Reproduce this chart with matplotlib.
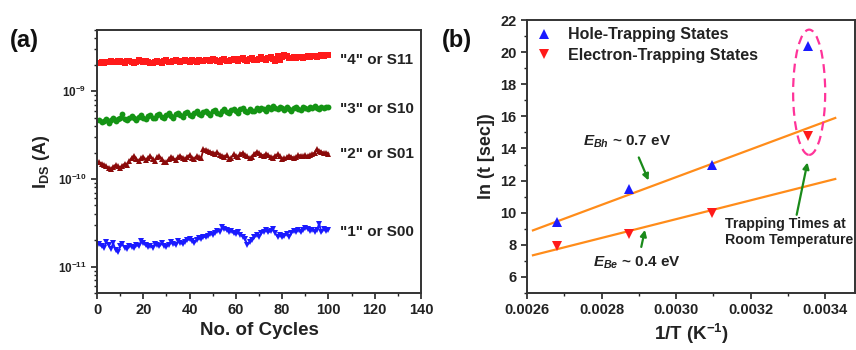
import matplotlib
matplotlib.use("Agg")
import matplotlib.pyplot as plt
import numpy as np
from matplotlib.patches import Ellipse
from matplotlib.ticker import MultipleLocator, FixedLocator, NullFormatter, FuncFormatter

plt.rcParams['font.family'] = ['Liberation Sans', 'DejaVu Sans']
plt.rcParams['font.weight'] = 'bold'
plt.rcParams['mathtext.fontset'] = 'custom'
plt.rcParams['mathtext.rm'] = 'Liberation Sans:bold'
plt.rcParams['mathtext.it'] = 'Liberation Sans:bold:italic'
plt.rcParams['mathtext.bf'] = 'Liberation Sans:bold'
plt.rcParams['mathtext.default'] = 'rm'

TXT = '#222222'

# ---------------- Panel (a) data ----------------
cycles = list(range(1, 101))
red_nA = [2.10,2.15,2.12,2.18,2.14,2.20,2.16,2.13,2.19,2.22,
          2.15,2.12,2.20,2.24,2.17,2.10,2.18,2.25,2.19,2.14,
          2.21,2.16,2.12,2.08,2.17,2.23,2.15,2.11,2.20,2.26,
          2.18,2.13,2.22,2.27,2.19,2.15,2.24,2.29,2.20,2.16,
          2.25,2.21,2.17,2.28,2.23,2.19,2.30,2.25,2.20,2.31,
          2.26,2.22,2.18,2.27,2.33,2.24,2.20,2.29,2.35,2.26,
          2.22,2.31,2.38,2.28,2.24,2.33,2.40,2.30,2.26,2.36,
          2.43,2.34,2.28,2.39,2.46,2.36,2.20,2.55,2.30,2.48,
          2.62,2.50,2.42,2.38,2.45,2.40,2.44,2.49,2.42,2.46,
          2.52,2.47,2.50,2.55,2.48,2.53,2.58,2.50,2.56,2.62]
green_e10 = [4.7,4.5,4.6,4.8,4.4,4.7,4.9,4.6,4.8,5.0,
             5.5,4.8,4.7,5.0,5.2,4.9,4.7,5.1,5.3,5.0,
             4.8,5.2,5.4,5.0,4.9,5.3,5.5,5.1,4.9,5.4,
             5.6,5.2,5.0,5.5,5.7,5.3,5.1,5.6,5.8,5.4,
             5.2,5.7,5.9,5.5,5.3,5.8,6.0,5.6,5.4,5.9,
             6.1,5.7,5.5,6.0,6.2,5.8,5.6,6.1,6.3,5.9,
             5.7,6.2,6.4,6.0,5.8,6.3,6.0,5.9,6.4,6.1,
             6.5,6.2,6.0,6.6,6.3,6.8,6.5,6.2,6.7,6.4,
             6.1,6.6,6.3,6.0,6.5,6.7,6.3,6.1,6.6,6.4,
             6.2,6.7,6.5,6.8,6.4,6.3,6.6,6.5,6.7,6.6]
brown_e10 = [1.55,1.50,1.45,1.40,1.35,1.30,1.38,1.45,1.40,1.35,
             1.42,1.50,1.45,1.60,1.75,1.85,1.70,1.60,1.72,1.80,
             1.65,1.75,1.85,1.70,1.62,1.78,1.82,1.68,1.58,1.55,
             1.70,1.80,1.72,1.65,1.78,1.85,1.75,1.68,1.80,1.88,
             1.75,1.70,1.82,1.78,1.72,2.20,2.15,2.10,2.05,2.00,
             1.95,2.02,1.90,1.85,1.80,1.88,1.70,1.75,1.92,1.85,
             1.78,1.95,2.00,1.88,1.82,1.72,1.80,1.95,2.05,1.98,
             1.90,1.85,1.95,1.88,1.80,1.75,1.85,1.92,1.82,1.70,
             1.72,1.78,1.85,1.80,1.74,1.78,1.88,1.85,1.82,1.86,
             1.84,1.88,1.92,2.00,2.20,2.10,2.05,1.98,2.00,1.95]
blue_e11 = [1.80,1.70,1.65,1.90,1.75,1.60,1.85,1.55,1.45,1.70,
            1.80,1.65,1.60,1.72,1.68,1.62,1.78,1.70,1.95,1.85,
            1.75,1.68,1.72,1.65,1.80,1.78,1.70,1.85,1.74,1.68,
            1.78,1.90,1.82,1.75,1.95,1.88,1.80,1.92,2.00,2.05,
            1.95,1.85,2.02,2.10,2.05,2.20,2.15,2.25,2.35,2.30,
            2.40,2.55,2.50,2.80,2.70,2.60,2.50,2.55,2.40,2.35,
            2.45,2.30,2.20,2.05,1.78,1.90,2.00,2.15,2.30,2.20,
            2.40,2.50,2.60,2.45,2.55,2.70,2.40,2.20,2.30,2.15,
            2.25,2.35,2.20,2.40,2.55,2.50,2.65,2.45,2.60,2.75,
            2.70,2.55,2.65,2.50,2.60,3.10,2.45,2.70,2.55,2.65]
state_labels = ['"4" or S11', '"3" or S10', '"2" or S01', '"1" or S00']
ytick_a = [1e-11, 1e-10, 1e-9]

# ---------------- Panel (b) data ----------------
invT = [0.002681, 0.002874, 0.003096, 0.003354]
ln_hole = [9.4, 11.5, 13.0, 20.4]
ln_elec = [7.9, 8.7, 10.0, 14.8]
fit_x = [0.002616, 0.003427]
fit_hole = [8.9, 15.9]
fit_elec = [7.35, 12.1]

fig = plt.figure(figsize=(8.56, 3.5), dpi=100)

# ---- Panel a ----
axa = fig.add_axes([97/856, 57/350, 324/856, 263/350])
x = np.array(cycles)
axa.plot(x, np.array(red_nA)*1e-9, color='#ff1a1a', marker='s', ms=4.0, lw=1.3, mew=0)
axa.plot(x, np.array(green_e10)*1e-10, color='#149414', marker='o', ms=4.2, lw=1.3, mew=0)
axa.plot(x, np.array(brown_e10)*1e-10, color='#8b0a0a', marker='^', ms=5.0, lw=1.3, mew=0)
axa.plot(x, np.array(blue_e11)*1e-11, color='#1a1aff', marker='v', ms=5.0, lw=1.3, mew=0)
axa.set_yscale('log')
axa.set_xlim(0, 140)
axa.set_ylim(5e-12, 5e-9)
axa.xaxis.set_major_locator(MultipleLocator(20))
axa.xaxis.set_minor_locator(MultipleLocator(10))
axa.yaxis.set_major_locator(FixedLocator(ytick_a))
minors = [m * d for d in (1e-12, 1e-11, 1e-10, 1e-9) for m in range(2, 10) if 5e-12 <= m * d <= 5e-9]
axa.yaxis.set_minor_locator(FixedLocator(minors))
axa.yaxis.set_minor_formatter(NullFormatter())
axa.yaxis.set_major_formatter(FuncFormatter(lambda v, p: r'10$^{%d}$' % int(round(np.log10(v)))))
axa.tick_params(axis='x', which='major', labelsize=10.5, length=4, width=1.2, colors=TXT, direction='out')
axa.tick_params(axis='y', which='major', labelsize=8.5, length=4, width=1.2, colors=TXT, direction='out')
axa.tick_params(which='minor', length=2.5, width=1.0, colors=TXT, direction='out')
axa.set_xlabel('No. of Cycles', fontsize=13.5, fontweight='bold', color=TXT, labelpad=3)
axa.set_ylabel(r'I$_{\mathrm{DS}}$ (A)', fontsize=13, fontweight='bold', color=TXT, labelpad=4)
for s in axa.spines.values():
    s.set_linewidth(1.4)
    s.set_color('#333333')
ypos = [2.3e-9, 6.3e-10, 1.95e-10, 2.5e-11]
for lab, yv in zip(state_labels, ypos):
    axa.text(105, yv, lab, fontsize=11, fontweight='bold', color=TXT, va='center', ha='left')
fig.text(10/856, 1 - 40/350, '(a)', fontsize=17, fontweight='bold', color='#111111', va='center')

# ---- Panel b ----
axb = fig.add_axes([527/856, 57/350, 328/856, 273/350])
axb.plot(fit_x, fit_hole, color='#ff8c1a', lw=1.6, zorder=2)
axb.plot(fit_x, fit_elec, color='#ff8c1a', lw=1.6, zorder=2)
axb.plot(invT, ln_hole, ls='none', marker='^', ms=7.5, color='#1a1aff', mew=0,
         label='Hole-Trapping States', zorder=3)
axb.plot(invT, ln_elec, ls='none', marker='v', ms=7.5, color='#ff1a1a', mew=0,
         label='Electron-Trapping States', zorder=3)
axb.set_xlim(0.0026, 0.00348)
axb.set_ylim(5, 22)
axb.xaxis.set_major_locator(MultipleLocator(0.0002))
axb.xaxis.set_minor_locator(MultipleLocator(0.0001))
axb.yaxis.set_major_locator(MultipleLocator(2))
axb.yaxis.set_minor_locator(MultipleLocator(1))
axb.set_yticks([6, 8, 10, 12, 14, 16, 18, 20, 22])
axb.xaxis.set_major_formatter(FuncFormatter(lambda v, p: f'{v:.4f}'))
axb.tick_params(which='major', labelsize=10.5, length=4, width=1.2, colors=TXT, direction='out')
axb.tick_params(which='minor', length=2.5, width=1.0, colors=TXT, direction='out')
axb.set_xlabel(r'1/T (K$^{\mathrm{-1}}$)', fontsize=13.5, fontweight='bold', color=TXT, labelpad=3)
axb.set_ylabel('ln (t [sec])', fontsize=13, fontweight='bold', color=TXT, labelpad=4)
for s in axb.spines.values():
    s.set_linewidth(1.4)
    s.set_color('#333333')
leg = axb.legend(loc='upper left', frameon=False, fontsize=11.5, handletextpad=0.9,
                 borderaxespad=0.05, labelspacing=0.35, handlelength=1.2,
                 bbox_to_anchor=(0.0, 1.0))
for t in leg.get_texts():
    t.set_color(TXT)
    t.set_fontweight('bold')

ell = Ellipse((0.003357, 17.5), 0.000086, 7.8, fill=False, ec='#ff3399', ls=(0, (4, 2.5)), lw=1.6, zorder=4)
axb.add_patch(ell)

axb.text(0.00275, 14.4, r'$\mathit{E}_{\mathit{Bh}}$ ~ 0.7 eV', fontsize=11, color=TXT, ha='left', va='center')
axb.annotate('', xy=(0.002929, 11.85), xytext=(0.002897, 13.6),
             arrowprops=dict(arrowstyle='-|>', color='#1a8a1a', lw=1.6, mutation_scale=9))
axb.text(0.002777, 6.9, r'$\mathit{E}_{\mathit{Be}}$ ~ 0.4 eV', fontsize=11, color=TXT, ha='left', va='center')
axb.annotate('', xy=(0.002918, 9.1), xytext=(0.002905, 7.7),
             arrowprops=dict(arrowstyle='-|>', color='#1a8a1a', lw=1.6, mutation_scale=9))
axb.text(0.00313, 8.8, 'Trapping Times at\nRoom Temperature', fontsize=10.2, color=TXT,
         ha='left', va='center', linespacing=1.2, clip_on=False)
axb.annotate('', xy=(0.003354, 13.3), xytext=(0.003322, 9.7),
             arrowprops=dict(arrowstyle='-|>', color='#1a8a1a', lw=1.6, mutation_scale=9))
fig.text(442/856, 1 - 40/350, '(b)', fontsize=17, fontweight='bold', color='#111111', va='center')

fig.savefig('out.png', dpi=100)
